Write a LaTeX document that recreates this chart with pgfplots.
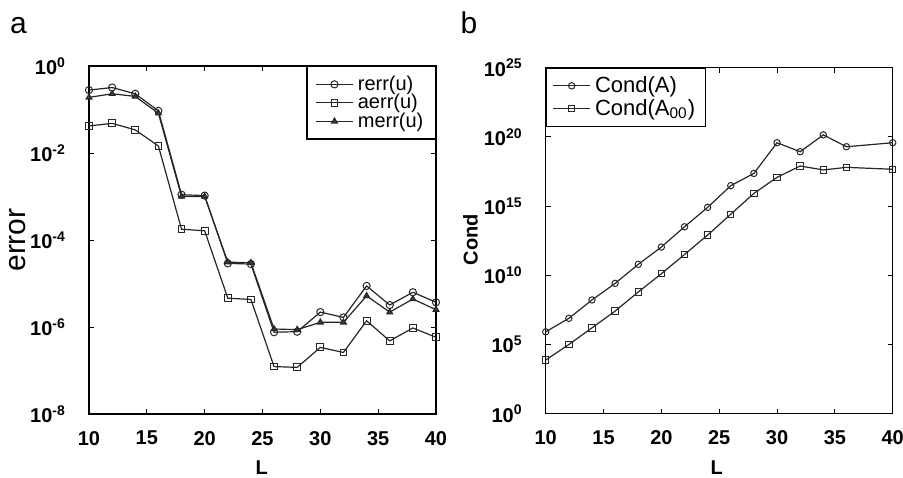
\documentclass[border=0pt]{standalone}
\usepackage{pgfplots}
\pgfplotsset{compat=1.18}
\usepackage{fontspec}
\setmainfont{Liberation Sans}
\begin{document}
\begin{tikzpicture}
\path[use as bounding box] (0,0) rectangle (451.5pt,-238.5pt);
\pgfplotsset{
  every axis/.append style={
    scale only axis, width=173.5pt,
    axis line style={line width=0.6pt, black},
    tick style={line width=0.5pt, black},
    major tick length=2.5pt,
    tick align=inside,
    xmin=10, xmax=40, xtick={10,15,...,40}, xticklabels={10,15,20,25,30,35,40},
    ymode=log, xminorticks=false, yminorticks=false,
    ticklabel style={font=\fontsize{10}{12}\selectfont\bfseries},
    xticklabel style={yshift=-5pt},
    yticklabel style={xshift=-8pt},
    legend cell align=left,
    legend image code/.code={\draw[mark repeat=2,mark phase=2] plot coordinates {(0cm,0cm)(0.33cm,0cm)(0.66cm,0cm)};},
  },
  every axis plot/.append style={black!85, line width=0.6pt, mark options={solid, fill=white, line width=0.5pt}},
}
% ---------------- left ----------------
\node[anchor=base, font=\fontsize{15}{18}\selectfont] at (9.25pt,-16.7pt) {a};
\begin{axis}[at={(44.5pt,-33pt)}, anchor=north west, height=174pt,
  ymin=1e-8, ymax=1,
  ytick={1e-8,1e-6,1e-4,1e-2,1},
  yticklabels={10\textsuperscript{-8},10\textsuperscript{-6},10\textsuperscript{-4},10\textsuperscript{-2},10\textsuperscript{0}},
  ylabel={error}, ylabel style={at={(axis description cs:-0.206,0.5)}, anchor=center, font=\fontsize{15}{18}\selectfont},
  xlabel={L}, xlabel style={at={(axis description cs:0.498,-0.153)}, anchor=center, font=\fontsize{10}{12}\selectfont\bfseries},
  legend style={at={(1,1)}, anchor=north east, draw=black, line width=0.6pt, font=\fontsize{10}{10}\selectfont, inner xsep=4pt, inner ysep=2.5pt, row sep=-3.5pt,
    nodes={inner ysep=2pt}},
]
\addplot[mark=o, mark size=1.8pt] coordinates {(10,0.28)(12,0.32)(14,0.23)(16,0.093)(18,1.1e-3)(20,1.05e-3)(22,2.9e-5)(24,2.8e-5)(26,7.6e-7)(28,7.8e-7)(30,2.2e-6)(32,1.66e-6)(34,8.8e-6)(36,3.2e-6)(38,6.3e-6)(40,3.7e-6)};
\addlegendentry{rerr(u)}
\addplot[mark=square, mark size=1.7pt] coordinates {(10,0.042)(12,0.048)(14,0.034)(16,0.0145)(18,1.77e-4)(20,1.63e-4)(22,4.6e-6)(24,4.3e-6)(26,1.23e-7)(28,1.18e-7)(30,3.4e-7)(32,2.6e-7)(34,1.39e-6)(36,4.8e-7)(38,9.5e-7)(40,5.8e-7)};
\addlegendentry{aerr(u)}
\addplot[mark=triangle*, mark size=1.6pt, mark options={fill=darkgray}] coordinates {(10,0.19)(12,0.23)(14,0.20)(16,0.082)(18,1.0e-3)(20,1.0e-3)(22,3.1e-5)(24,3.0e-5)(26,9e-7)(28,8.7e-7)(30,1.28e-6)(32,1.28e-6)(34,5.2e-6)(36,2.2e-6)(38,4.4e-6)(40,2.5e-6)};
\addlegendentry{merr(u)}
\end{axis}
% ---------------- right ----------------
\node[anchor=base, font=\fontsize{15}{18}\selectfont] at (234.5pt,-16.7pt) {b};
\begin{axis}[at={(272.85pt,-33.85pt)}, anchor=north west, height=173pt,
  ymin=1, ymax=1e25,
  ytick={1,1e5,1e10,1e15,1e20,1e25},
  yticklabels={10\textsuperscript{0},10\textsuperscript{5},10\textsuperscript{10},10\textsuperscript{15},10\textsuperscript{20},10\textsuperscript{25}},
  ylabel={Cond}, ylabel style={at={(axis description cs:-0.217,0.503)}, anchor=center, font=\fontsize{10}{12}\selectfont\bfseries},
  xlabel={L}, xlabel style={at={(axis description cs:0.493,-0.155)}, anchor=center, font=\fontsize{10}{12}\selectfont\bfseries},
  legend style={at={(0,1)}, anchor=north west, draw=black, line width=0.6pt, font=\fontsize{11}{11}\selectfont, inner xsep=3pt, inner ysep=2pt, row sep=-2pt},
]
\addplot[mark=o, mark size=1.6pt] coordinates {(10,8.3e5)(12,7.8e6)(14,1.66e8)(16,2.6e9)(18,6.2e10)(20,1.1e12)(22,3.2e13)(24,8.1e14)(26,3.0e16)(28,2.3e17)(30,3.8e19)(32,8.5e18)(34,1.4e20)(36,1.95e19)(40,3.8e19)};
\addlegendentry{Cond(A)}
\addplot[mark=square, mark size=1.6pt] coordinates {(10,7.6e3)(12,1.0e5)(14,1.6e6)(16,2.6e7)(18,6.2e8)(20,1.3e10)(22,3.2e11)(24,8.1e12)(26,2.6e14)(28,8.3e15)(30,1.2e17)(32,7.9e17)(34,4.1e17)(36,6.3e17)(40,4.6e17)};
\addlegendentry{Cond(A\textsubscript{00})}
\end{axis}
\end{tikzpicture}
\end{document}
